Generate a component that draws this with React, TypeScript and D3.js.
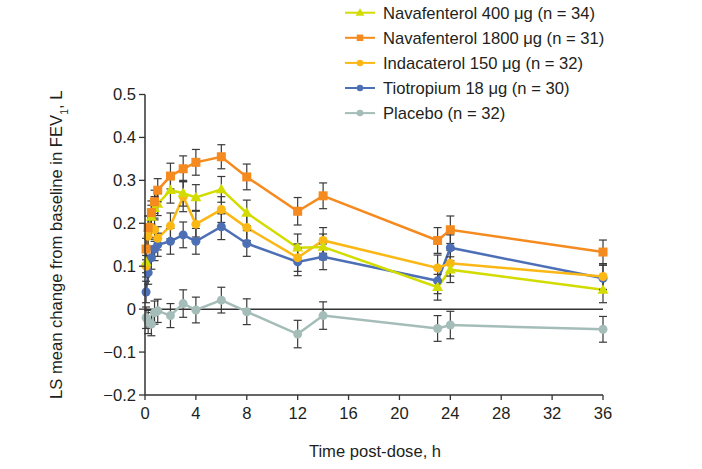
import React from "react";
import * as d3 from "d3";

const times = [0.083, 0.25, 0.5, 0.75, 1, 2, 3, 4, 6, 8, 12, 14, 23, 24, 36];

const nav400 = [0.11, 0.19, 0.215, 0.235, 0.245, 0.277, 0.27, 0.26, 0.279, 0.224, 0.143, 0.145, 0.051, 0.092, 0.045];
const nav400Err = [0.025, 0.027, 0.027, 0.027, 0.027, 0.03, 0.03, 0.03, 0.03, 0.03, 0.032, 0.03, 0.03, 0.03, 0.03];

const nav1800 = [0.14, 0.19, 0.225, 0.25, 0.277, 0.31, 0.327, 0.342, 0.355, 0.308, 0.228, 0.264, 0.16, 0.185, 0.133];
const nav1800Err = [0.025, 0.027, 0.027, 0.027, 0.027, 0.03, 0.03, 0.03, 0.028, 0.03, 0.032, 0.03, 0.03, 0.032, 0.028];

const inda = [0.1, 0.17, 0.19, 0.185, 0.165, 0.194, 0.262, 0.198, 0.232, 0.19, 0.12, 0.16, 0.096, 0.107, 0.076];
const indaErr = [0.025, 0.027, 0.027, 0.027, 0.027, 0.03, 0.035, 0.03, 0.03, 0.03, 0.032, 0.03, 0.03, 0.03, 0.03];

const tio = [0.04, 0.085, 0.12, 0.14, 0.15, 0.158, 0.173, 0.158, 0.192, 0.153, 0.11, 0.122, 0.066, 0.143, 0.072];
const tioErr = [0.025, 0.027, 0.027, 0.027, 0.027, 0.03, 0.03, 0.03, 0.03, 0.03, 0.032, 0.03, 0.03, 0.03, 0.03];

const placebo = [-0.02, -0.03, -0.035, -0.008, -0.004, -0.015, 0.013, -0.002, 0.021, -0.006, -0.058, -0.015, -0.045, -0.037, -0.047];
const placeboErr = [0.025, 0.027, 0.027, 0.027, 0.027, 0.028, 0.032, 0.03, 0.03, 0.03, 0.032, 0.032, 0.03, 0.032, 0.03];

const xTicks = [0, 4, 8, 12, 16, 20, 24, 28, 32, 36];
const yTicks = [-0.2, -0.1, 0, 0.1, 0.2, 0.3, 0.4, 0.5];

const seriesNames = [
  "Navafenterol 400 μg (n = 34)",
  "Navafenterol 1800 μg (n = 31)",
  "Indacaterol 150 μg (n = 32)",
  "Tiotropium 18 μg (n = 30)",
  "Placebo (n = 32)",
];

type Shape = "triangle" | "square" | "circle";

const series: { name: string; values: number[]; err: number[]; color: string; shape: Shape }[] = [
  { name: seriesNames[0], values: nav400, err: nav400Err, color: "#d3dc00", shape: "triangle" },
  { name: seriesNames[1], values: nav1800, err: nav1800Err, color: "#f58a1f", shape: "square" },
  { name: seriesNames[2], values: inda, err: indaErr, color: "#fbb714", shape: "circle" },
  { name: seriesNames[3], values: tio, err: tioErr, color: "#4d6fb6", shape: "circle" },
  { name: seriesNames[4], values: placebo, err: placeboErr, color: "#a4bdb8", shape: "circle" },
];

const drawOrder = [4, 3, 2, 0, 1];

const FONT = "'Liberation Sans', Arial, Helvetica, sans-serif";
const FS = 16.6;

function Marker({ shape, x, y, color, size }: { shape: Shape; x: number; y: number; color: string; size: number }) {
  if (shape === "square") {
    return <rect x={x - size / 2} y={y - size / 2} width={size} height={size} fill={color} />;
  }
  if (shape === "triangle") {
    const h = size * 0.95;
    const w = size * 1.1;
    return <path d={`M${x},${y - h * 0.6}L${x + w / 2},${y + h * 0.4}L${x - w / 2},${y + h * 0.4}Z`} fill={color} />;
  }
  return <circle cx={x} cy={y} r={size / 2} fill={color} />;
}

export default function App() {
  const x = d3.scaleLinear().domain([0, 36]).range([145, 603]);
  const y = d3.scaleLinear().domain([-0.2, 0.5]).range([395, 94.5]);
  const line = d3
    .line<number>()
    .x((_, i) => x(times[i]))
    .y((v) => y(v));

  const axisColor = "#333";
  const textColor = "#231f20";

  return (
    <svg width={702} height={469} style={{ position: "absolute", left: 0, top: 0, background: "#fff" }} fontFamily={FONT}>
      <line x1={x(0)} x2={x(36)} y1={y(0)} y2={y(0)} stroke={axisColor} strokeWidth={1.5} />

      {drawOrder.map((si) => {
        const s = series[si];
        return <path key={"l" + si} d={line(s.values) || ""} fill="none" stroke={s.color} strokeWidth={2.5} />;
      })}

      {drawOrder.map((si) => {
        const s = series[si];
        return (
          <g key={"e" + si} stroke="#3a3a3a" strokeWidth={1.2}>
            {s.values.map((v, i) => {
              const cx = x(times[i]);
              const y1 = y(v + s.err[i]);
              const y2 = y(v - s.err[i]);
              return (
                <g key={i}>
                  <line x1={cx} x2={cx} y1={y1} y2={y2} />
                  <line x1={cx - 4} x2={cx + 4} y1={y1} y2={y1} />
                  <line x1={cx - 4} x2={cx + 4} y1={y2} y2={y2} />
                </g>
              );
            })}
          </g>
        );
      })}

      {drawOrder.map((si) => {
        const s = series[si];
        return (
          <g key={"m" + si}>
            {s.values.map((v, i) => (
              <Marker key={i} shape={s.shape} x={x(times[i])} y={y(v)} color={s.color} size={s.shape === "square" ? 9 : s.shape === "triangle" ? 10 : 9} />
            ))}
          </g>
        );
      })}

      <line x1={x(0)} x2={x(0)} y1={y(0.5)} y2={y(-0.2)} stroke={axisColor} strokeWidth={1.5} />
      {yTicks.map((t) => (
        <g key={"yt" + t}>
          <line x1={x(0) - 6} x2={x(0)} y1={y(t)} y2={y(t)} stroke={axisColor} strokeWidth={1.3} />
          <text x={x(0) - 9} y={y(t)} dy="0.35em" textAnchor="end" fontSize={FS} fill={textColor}>
            {t === 0 ? "0" : (t < 0 ? "\u2212" : "") + Math.abs(t).toFixed(1)}
          </text>
        </g>
      ))}

      <line x1={x(0)} x2={x(36)} y1={y(-0.2)} y2={y(-0.2)} stroke={axisColor} strokeWidth={1.5} />
      {xTicks.map((t) => (
        <g key={"xt" + t}>
          <line x1={x(t)} x2={x(t)} y1={y(-0.2)} y2={y(-0.2) + 5} stroke={axisColor} strokeWidth={1.3} />
          <text x={x(t)} y={419} textAnchor="middle" fontSize={FS} fill={textColor}>
            {t}
          </text>
        </g>
      ))}

      <text x={375} y={457} textAnchor="middle" fontSize={FS} fill={textColor}>
        Time post-dose, h
      </text>
      <text transform={`translate(62,${y(0.15)}) rotate(-90)`} textAnchor="middle" fontSize={FS} fill={textColor}>
        LS mean change from baseline in FEV
        <tspan baselineShift="sub" fontSize={10.5}>1</tspan>
        <tspan>, L</tspan>
      </text>

      {series.map((s, i) => {
        const cy = 12.7 + i * 25.1;
        return (
          <g key={"lg" + i}>
            <line x1={345} x2={375} y1={cy} y2={cy} stroke={s.color} strokeWidth={2} />
            <Marker shape={s.shape} x={360} y={cy} color={s.color} size={s.shape === "triangle" ? 8 : 6.5} />
            <text x={383} y={cy} dy="0.36em" fontSize={FS} fill={textColor}>
              {s.name}
            </text>
          </g>
        );
      })}
    </svg>
  );
}
